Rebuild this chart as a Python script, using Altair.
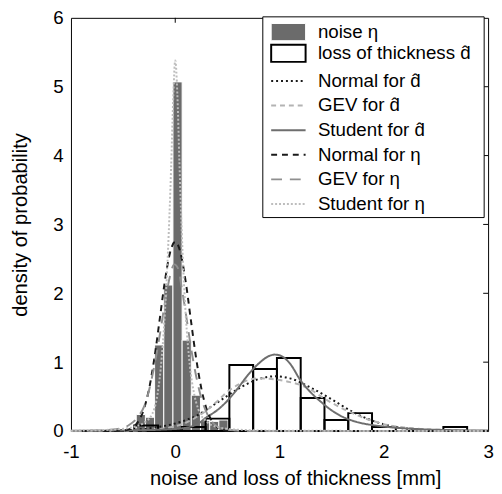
import altair as alt
import pandas as pd

# ---------------- data ----------------
noise_edges = [-0.374, -0.286, -0.198, -0.110, -0.022, 0.066, 0.154, 0.242, 0.330, 0.418, 0.506]
noise_heights = [0.24, 0.20, 1.25, 2.12, 5.07, 1.32, 0.52, 0.15, 0.14, 0.16]

loss_edges = [-0.393, -0.165, 0.063, 0.291, 0.519, 0.747, 0.975, 1.203, 1.431,
              1.659, 1.887, 2.115, 2.343, 2.571, 2.799]
loss_heights = [0.08, 0.02, 0.06, 0.18, 0.96, 0.90, 1.06, 0.48, 0.16, 0.26, 0.06, 0.0, 0.0, 0.06]

nd_x = [-1, -0.5, -0.2, 0, 0.2, 0.4, 0.6, 0.8, 0.96, 1.1, 1.3, 1.5, 1.7, 1.9, 2.1, 2.3, 2.5, 2.75, 3]
nd_y = [0.0004, 0.011, 0.05, 0.11, 0.22, 0.41, 0.61, 0.755, 0.795, 0.765, 0.63, 0.46, 0.28, 0.145,
        0.062, 0.023, 0.008, 0.002, 0.0003]

gd_x = [-1, -0.5, -0.2, 0, 0.1, 0.2, 0.3, 0.4, 0.5, 0.6, 0.7, 0.8, 0.9, 1.0, 1.1, 1.2, 1.3, 1.4,
        1.5, 1.6, 1.7, 1.8, 1.9, 2.0, 2.2, 2.4, 2.6, 3]
gd_y = [0, 0.003, 0.02, 0.07, 0.12, 0.2, 0.3, 0.43, 0.57, 0.67, 0.74, 0.765, 0.76, 0.74, 0.71, 0.67,
        0.6, 0.5, 0.41, 0.33, 0.26, 0.195, 0.145, 0.1, 0.05, 0.025, 0.012, 0.003]

sd_x = [-1, -0.5, 0, 0.2, 0.3, 0.4, 0.5, 0.6, 0.7, 0.8, 0.9, 0.95, 1.0, 1.1, 1.2, 1.3, 1.4, 1.5,
        1.6, 1.7, 1.8, 1.9, 2.0, 2.1, 2.3, 2.6, 3]
sd_y = [0.004, 0.008, 0.03, 0.09, 0.2, 0.3, 0.44, 0.62, 0.82, 0.98, 1.09, 1.11, 1.10, 0.98, 0.74,
        0.56, 0.42, 0.3, 0.21, 0.15, 0.11, 0.085, 0.065, 0.05, 0.03, 0.015, 0.007]

ne_x = [-1, -0.6, -0.5, -0.45, -0.4, -0.35, -0.3, -0.25, -0.2, -0.15, -0.1, -0.05, 0, 0.05, 0.1,
        0.15, 0.2, 0.25, 0.3, 0.35, 0.4, 0.45, 0.5, 0.6, 1, 2, 3]
ne_y = [0, 0.0005, 0.005, 0.02, 0.06, 0.15, 0.32, 0.62, 1.06, 1.61, 2.17, 2.59, 2.75, 2.59, 2.17,
        1.61, 1.06, 0.62, 0.32, 0.15, 0.06, 0.02, 0.005, 0.0005, 0, 0, 0]

ge_x = [-1, -0.7, -0.55, -0.45, -0.35, -0.3, -0.25, -0.2, -0.15, -0.1, -0.05, -0.01, 0.03, 0.06,
        0.1, 0.15, 0.2, 0.25, 0.3, 0.35, 0.4, 0.5, 0.7, 1, 3]
ge_y = [0, 0.01, 0.03, 0.08, 0.22, 0.35, 0.6, 0.95, 1.38, 1.85, 2.25, 2.42, 2.35, 2.1, 1.72, 1.22,
        0.8, 0.48, 0.27, 0.14, 0.07, 0.015, 0.002, 0, 0]

se_x = [-1, -0.6, -0.4, -0.3, -0.22, -0.18, -0.14, -0.1, -0.07, -0.04, -0.02, 0, 0.02, 0.04, 0.07,
        0.1, 0.14, 0.18, 0.22, 0.3, 0.4, 0.6, 1, 3]
se_y = [0.005, 0.02, 0.06, 0.12, 0.25, 0.45, 0.9, 1.7, 2.6, 3.8, 4.8, 5.38, 4.9, 3.9, 2.6, 1.7,
        0.95, 0.55, 0.32, 0.14, 0.06, 0.02, 0.005, 0]

bar_series = ["noise η", "loss of thickness  d\u0302"]
bar_fills = ["#6b6b6b", "transparent"]
bar_strokes = ["white", "black"]
bar_widths = [1, 2]

line_series = ["Normal for d\u0302", "GEV for d\u0302", "Student for d\u0302",
               "Normal for  η", "GEV for  η", "Student for  η"]
line_colors = ["#1a1a1a", "#b3b3b3", "#6e6e6e", "#1a1a1a", "#8f8f8f", "#bdbdbd"]
line_dashes = [[2, 3], [5, 4], [1, 0], [6, 5], [11, 8], [2, 2]]

xticks = [-1, 0, 1, 2, 3]
yticks = [0, 1, 2, 3, 4, 5, 6]
top_ticks = [0, 1, 2]
right_ticks = [1, 2, 3, 4, 5]

# ---------------- tables ----------------
bar_rows = []
for name, edges, hs in [(bar_series[0], noise_edges, noise_heights),
                        (bar_series[1], loss_edges, loss_heights)]:
    for i, h in enumerate(hs):
        bar_rows.append({"kind": name, "x0": edges[i], "x1": edges[i + 1], "h": h})
bar_df = pd.DataFrame(bar_rows)

curves = [(line_series[0], nd_x, nd_y), (line_series[1], gd_x, gd_y), (line_series[2], sd_x, sd_y),
          (line_series[3], ne_x, ne_y), (line_series[4], ge_x, ge_y), (line_series[5], se_x, se_y)]
rows = []
for name, xs, ys in curves:
    for a, b in zip(xs, ys):
        rows.append({"series": name, "x": a, "y": b})
curve_df = pd.DataFrame(rows)

W, H = 424, 420
FONT = "Liberation Sans"
LX, LY, ROW = 195, -3, 24.6

xscale = alt.Scale(domain=[-1, 3], nice=False, zero=False)
yscale = alt.Scale(domain=[0, 6], nice=False)

common_leg = dict(title=None, orient="none", padding=8, symbolSize=306, symbolStrokeWidth=2,
                  symbolOffset=8, labelOffset=20, labelFont=FONT,
                  labelFontSize=19, labelColor="black", labelLimit=400)
bar_legend = alt.Legend(legendX=LX, legendY=LY, symbolType="M-2,-1H2V1H-2Z", rowPadding=-3.4,
                        **common_leg)
line_legend = alt.Legend(legendX=LX, legendY=LY + 2 * ROW, symbolType="M-2,0H2", rowPadding=5,
                         **common_leg)

xaxis = alt.Axis(values=xticks, title="noise and loss of thickness [mm]", labelPadding=27,
                 labelBaseline="alphabetic", labelFlush=False, titleY=54, titleX=228,
                 titleBaseline="alphabetic", grid=False, ticks=False, domain=False,
                 labelExpr="datum.value + ''")
yaxis = alt.Axis(values=yticks, title="density of probability", labelPadding=8,
                 titleX=-45, titleBaseline="alphabetic", grid=False, ticks=False, domain=False,
                 labelExpr="datum.value + ''")

bars = alt.Chart(bar_df).mark_bar().encode(
    x=alt.X("x0:Q", scale=xscale, axis=xaxis), x2="x1:Q",
    y=alt.Y("h:Q", scale=yscale, axis=yaxis), y2=alt.datum(0),
    fill=alt.Fill("kind:N", scale=alt.Scale(domain=bar_series, range=bar_fills), legend=bar_legend),
    stroke=alt.Stroke("kind:N", scale=alt.Scale(domain=bar_series, range=bar_strokes), legend=bar_legend),
    strokeWidth=alt.StrokeWidth("kind:N", scale=alt.Scale(domain=bar_series, range=bar_widths), legend=None),
)

frame = alt.Chart(pd.DataFrame({"k": [0]})).mark_rect(fill="white", stroke="black", strokeWidth=1).encode(
    x=alt.value(LX), x2=alt.value(420), y=alt.value(-1), y2=alt.value(203))

lines = alt.Chart(curve_df).mark_line(interpolate="monotone", strokeWidth=2).encode(
    x=alt.X("x:Q", scale=xscale), y=alt.Y("y:Q", scale=yscale),
    color=alt.Color("series:N", scale=alt.Scale(domain=line_series, range=line_colors), legend=line_legend),
    strokeDash=alt.StrokeDash("series:N", scale=alt.Scale(domain=line_series, range=line_dashes), legend=line_legend),
)

top_t = alt.Chart(pd.DataFrame({"t": top_ticks})).mark_rule(color="black", strokeWidth=1).encode(
    x=alt.X("t:Q", scale=xscale), y=alt.value(0), y2=alt.value(5))
right_t = alt.Chart(pd.DataFrame({"t": right_ticks})).mark_rule(color="black", strokeWidth=1).encode(
    y=alt.Y("t:Q", scale=yscale), x=alt.value(W), x2=alt.value(W - 5))

chart = alt.layer(bars, lines, top_t, right_t, frame).resolve_scale(
    color="independent", strokeDash="independent"
).properties(
    width=W, height=H, background="white",
    autosize=alt.AutoSizeParams(type="none"),
    padding={"left": 64, "top": 6, "right": 6, "bottom": 60},
).configure_view(stroke="black", strokeWidth=1).configure_axis(
    grid=False, ticks=False, domain=False,
    labelFont=FONT, labelFontSize=19, labelColor="black",
    titleFont=FONT, titleFontSize=20.5, titleFontWeight="normal", titleColor="black",
)

chart.save("out.html", embed_options={"renderer": "svg", "actions": False})
